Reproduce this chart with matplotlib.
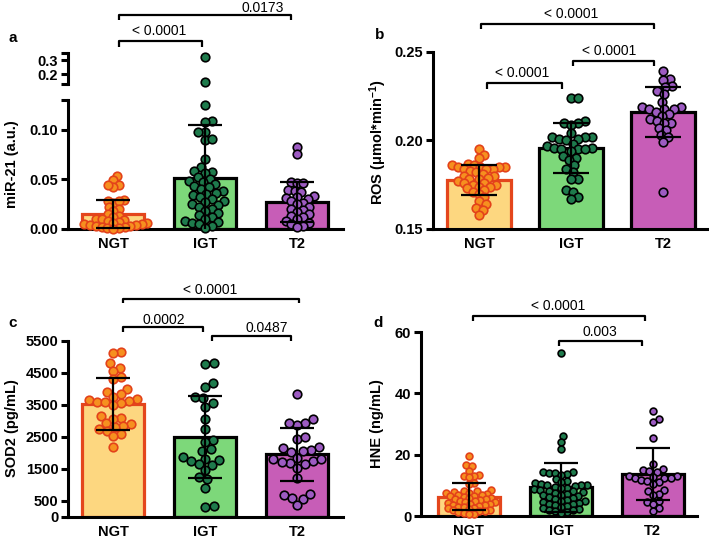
import numpy as np
import matplotlib
matplotlib.use("Agg")
import matplotlib.pyplot as plt
from matplotlib.transforms import blended_transform_factory

plt.rcParams["font.family"] = ["Liberation Sans", "DejaVu Sans"]
plt.rcParams["mathtext.fontset"] = "custom"
plt.rcParams["mathtext.rm"] = "Liberation Sans:bold"
plt.rcParams["mathtext.it"] = "Liberation Sans:bold"
plt.rcParams["mathtext.bf"] = "Liberation Sans:bold"

groups = ["NGT", "IGT", "T2"]

# panel a: miR-21 (a.u.)
mir_ngt = [0.053, 0.049, 0.044, 0.042, 0.044, 0.029, 0.026, 0.028, 0.022, 0.028, 0.020,
           0.018, 0.015, 0.013, 0.012, 0.010, 0.010, 0.009, 0.008, 0.007, 0.006, 0.006,
           0.005, 0.005, 0.004, 0.004, 0.003, 0.003, 0.002, 0.002, 0.001, 0.001, 0.0]
mir_igt = [0.324, 0.145, 0.125, 0.109, 0.108, 0.098, 0.098, 0.090, 0.091, 0.071, 0.062,
           0.058, 0.057, 0.056, 0.052, 0.050, 0.048, 0.047, 0.045, 0.043, 0.042, 0.040,
           0.038, 0.036, 0.035, 0.034, 0.032, 0.030, 0.028, 0.027, 0.025, 0.024, 0.022,
           0.020, 0.018, 0.016, 0.014, 0.012, 0.010, 0.008, 0.007, 0.006, 0.005, 0.003, 0.001]
mir_t2 = [0.083, 0.076, 0.047, 0.046, 0.046, 0.039, 0.038, 0.037, 0.033, 0.032, 0.031,
          0.030, 0.028, 0.026, 0.025, 0.022, 0.020, 0.019, 0.017, 0.015, 0.013, 0.012,
          0.010, 0.008, 0.006, 0.005, 0.003, 0.002]
mir_mean = [0.015, 0.051, 0.027]
mir_sd = [0.014, 0.054, 0.020]

# panel b: ROS
ros_ngt = [0.195, 0.192, 0.190, 0.187, 0.186, 0.186, 0.185, 0.185, 0.185, 0.185, 0.184,
           0.184, 0.184, 0.183, 0.182, 0.181, 0.180, 0.180, 0.179, 0.178, 0.178, 0.177,
           0.176, 0.176, 0.175, 0.175, 0.174, 0.174, 0.173, 0.172, 0.171, 0.170, 0.168,
           0.166, 0.164, 0.162, 0.161, 0.158]
ros_igt = [0.224, 0.224, 0.211, 0.210, 0.210, 0.209, 0.204, 0.202, 0.202, 0.202, 0.201,
           0.201, 0.200, 0.198, 0.197, 0.196, 0.196, 0.195, 0.195, 0.195, 0.194, 0.191,
           0.190, 0.189, 0.186, 0.184, 0.182, 0.178, 0.178, 0.172, 0.171, 0.168, 0.167]
ros_t2 = [0.239, 0.235, 0.234, 0.231, 0.230, 0.228, 0.226, 0.222, 0.219, 0.219, 0.218,
          0.218, 0.218, 0.216, 0.215, 0.214, 0.212, 0.211, 0.210, 0.210, 0.207, 0.206,
          0.203, 0.202, 0.199, 0.171]
ros_mean = [0.1777, 0.1958, 0.216]
ros_sd = [0.0085, 0.014, 0.0143]

# panel c: SOD2 (pg/mL)
sod_ngt = [5150, 5110, 4800, 4670, 4560, 4390, 4300, 4000, 3920, 3830, 3760, 3700, 3650,
           3620, 3600, 3580, 3550, 3500, 3150, 3100, 3050, 2950, 2900, 2850, 2800, 2750,
           2700, 2600, 2520, 2200]
sod_igt = [4780, 4820, 4180, 4070, 3760, 3710, 3550, 3450, 3050, 2740, 2400, 2350, 2110,
           2070, 1880, 1820, 1780, 1750, 1650, 1620, 1470, 1260, 1180, 920, 340, 300]
sod_t2 = [3840, 3060, 2930, 2880, 2930, 2440, 2510, 2180, 2100, 2060, 2150, 2030, 1850,
          1800, 1760, 1700, 1650, 1720, 1800, 1540, 1230, 690, 590, 560, 720, 380]
sod_mean = [3531, 2510, 1959]
sod_sd = [825, 1285, 830]

# panel d: HNE (ng/mL)
hne_ngt = [19.5, 16.5, 16.3, 14.8, 13.5, 13.2, 13.0, 12.8, 10.8, 10.5, 8.5, 8.2, 8.0, 7.8,
           7.6, 7.5, 7.3, 7.0, 6.8, 6.6, 6.5, 6.3, 6.0, 5.8, 5.6, 5.5, 5.3, 5.0, 4.8, 4.6,
           4.5, 4.3, 4.0, 3.8, 3.6, 3.5, 3.3, 3.0, 2.8, 2.6, 2.5, 2.3, 2.0, 1.8, 1.6, 1.5,
           1.2, 1.0, 0.8, 0.5]
hne_igt = [53, 26, 24.2, 22, 14.5, 14.3, 14.0, 14.0, 13.8, 13.5, 12.0, 11.5, 11.0, 10.8,
           10.5, 10.2, 10.0, 10.0, 9.8, 9.5, 9.2, 9.0, 8.8, 8.5, 8.2, 8.0, 7.8, 7.5, 7.2,
           7.0, 6.8, 6.5, 6.2, 6.0, 5.5, 5.2, 5.0, 4.8, 4.5, 4.2, 4.0, 3.8, 3.5, 3.2, 3.0,
           2.5, 2.2, 2.0, 1.8, 1.5, 1.2, 1.0]
hne_t2 = [34.3, 31.5, 30.7, 25.5, 16.9, 15.3, 15.0, 14.6, 14.3, 13.2, 13.0, 12.8, 12.5,
          12.5, 12.3, 11.8, 11.5, 11.0, 10.5, 8.5, 8.0, 7.2, 6.8, 5.0, 4.5, 4.0, 2.5, 1.5]
hne_mean = [6.3, 9.3, 13.7]
hne_sd = [4.4, 7.9, 8.6]

bar_face = ["#FDD780", "#7DD87A", "#C75DB7"]
bar_edge = ["#E4461C", "black", "black"]
pt_face = ["#F6901F", "#1E7B4C", "#9D5BC2"]
pt_edge = ["#E3421A", "black", "black"]

W, H = 709, 543
fig = plt.figure(figsize=(W / 100, H / 100), dpi=100)


def add_ax(x0, x1, y_top, y_bot):
    return fig.add_axes([x0 / W, 1 - y_bot / H, (x1 - x0) / W, (y_bot - y_top) / H],
                        facecolor="none")


def swarm_x(ax, x0, vals, d):
    vals = np.asarray(vals, float)
    xy = ax.transData.transform(np.column_stack([np.full(len(vals), x0), vals]))
    placed = []
    xs = np.zeros(len(vals))
    for i in np.argsort(vals):
        py = xy[i, 1]
        cands = [0.0]
        for ox, oy in placed:
            dy = py - oy
            if abs(dy) < d:
                dx = np.sqrt(d * d - dy * dy)
                cands += [ox + dx, ox - dx]
        for c in sorted(cands, key=abs):
            if all((c - ox) ** 2 + (py - oy) ** 2 >= d * d - 1e-6 for ox, oy in placed):
                break
        placed.append((c, py))
        xs[i] = xy[i, 0] + c
    return ax.transData.inverted().transform(np.column_stack([xs, xy[:, 1]]))[:, 0]


def style(ax, yticks, ylabels, bottom=True):
    for s in ["top", "right"]:
        ax.spines[s].set_visible(False)
    ax.spines["left"].set_linewidth(2.2)
    ax.spines["bottom"].set_linewidth(2.2)
    ax.set_yticks(yticks)
    ax.set_yticklabels(ylabels, fontweight="bold", fontsize=10.5)
    ax.tick_params(axis="y", width=2.2, length=5, pad=2)
    if bottom:
        ax.set_xticks([0, 1, 2])
        ax.set_xticklabels(groups, fontweight="bold", fontsize=10.5)
        ax.tick_params(axis="x", length=0, pad=6)
    else:
        ax.spines["bottom"].set_visible(False)
        ax.set_xticks([])


def bars(ax, means, sds, width, capsize):
    for i in range(3):
        ax.bar(i, means[i], width=width, color=bar_face[i], edgecolor=bar_edge[i],
               linewidth=2.3, zorder=2)
    ax.errorbar(range(3), means, yerr=sds, fmt="none", ecolor="black", elinewidth=1.6,
                capsize=capsize, capthick=1.6, zorder=5)


def points(ax, data, size, spacing, lo=None, hi=None):
    diam_px = np.sqrt(size) * 100 / 72
    for i, vals in enumerate(data):
        v = np.asarray(vals, float)
        if lo is not None:
            v = v[(v >= lo) & (v <= hi)]
        if len(v) == 0:
            continue
        xs = swarm_x(ax, i, v, diam_px * spacing[i])
        ax.scatter(xs, v, s=size, facecolor=pt_face[i], edgecolor=pt_edge[i],
                   linewidth=1.2, zorder=4, clip_on=False)


def bracket(ax, x1, x2, y, drop, text, tx, ty):
    tr = blended_transform_factory(ax.transData, ax.transAxes)
    ax.plot([x1, x1, x2, x2], [y - drop, y, y, y - drop], color="black", lw=1.6,
            transform=tr, clip_on=False, solid_capstyle="butt")
    ax.text(tx, ty, text, transform=tr, ha="center", va="center", fontsize=10)


def ylabel(ax, text, x, y):
    ax.set_ylabel(text, fontweight="bold", fontsize=10.5)
    ax.yaxis.set_label_coords(x, y)


# ---- panel a (broken y axis)
axa = add_ax(68, 343, 100, 229)
axa_up = add_ax(68, 343, 53, 84)
for ax in (axa, axa_up):
    ax.set_xlim(-0.49, 2.5)
axa.set_ylim(0, 0.13)
axa_up.set_ylim(0.1286, 0.35)
style(axa, [0, 0.05, 0.10], ["0.00", "0.05", "0.10"])
style(axa_up, [0.2, 0.3], ["0.2", "0.3"], bottom=False)
axa.set_yticks([0.13], minor=True)
axa_up.set_yticks([0.1286, 0.35], minor=True)
for ax in (axa, axa_up):
    ax.tick_params(axis="y", which="minor", width=2.2, length=5)
bars(axa, mir_mean, mir_sd, 0.68, 12)
points(axa, [mir_ngt, mir_igt, mir_t2], 38, [0.68, 0.85, 0.75], 0, 0.13)
points(axa_up, [mir_ngt, mir_igt, mir_t2], 38, [0.8, 0.8, 0.8], 0.13, 0.35)
ylabel(axa, "miR-21 (a.u.)", -0.178, 0.5)
bracket(axa, 0.06, 0.97, 1.457, 0.047, "< 0.0001", 0.5, 1.535)
bracket(axa, 0.06, 1.93, 1.659, 0.04, "0.0173", 1.63, 1.712)

# ---- panel b
axb = add_ax(433, 708, 52, 229)
axb.set_xlim(-0.5, 2.49)
axb.set_ylim(0.15, 0.25)
style(axb, [0.15, 0.20, 0.25], ["0.15", "0.20", "0.25"])
bars(axb, ros_mean, ros_sd, 0.7, 13)
points(axb, [ros_ngt, ros_igt, ros_t2], 38, [0.75, 0.85, 0.85])
ylabel(axb, "ROS (μmol*min$^{-1}$)", -0.16, 0.49)
bracket(axb, 0.02, 1.9, 1.158, 0.03, "< 0.0001", 1.0, 1.215)
bracket(axb, 0.09, 0.9, 0.825, 0.034, "< 0.0001", 0.47, 0.881)
bracket(axb, 1.02, 1.9, 0.949, 0.03, "< 0.0001", 1.42, 1.006)

# ---- panel c
axc = add_ax(68, 343, 341, 517)
axc.set_xlim(-0.49, 2.5)
axc.set_ylim(0, 5500)
style(axc, [0, 500, 1500, 2500, 3500, 4500, 5500],
      ["0", "500", "1500", "2500", "3500", "4500", "5500"])
bars(axc, sod_mean, sod_sd, 0.68, 12)
points(axc, [sod_ngt, sod_igt, sod_t2], 38, [0.95, 1.0, 1.0])
ylabel(axc, "SOD2 (pg/mL)", -0.178, 0.506)
bracket(axc, 0.11, 2.02, 1.239, 0.023, "< 0.0001", 1.05, 1.29)
bracket(axc, 0.11, 0.98, 1.08, 0.03, "0.0002", 0.55, 1.12)
bracket(axc, 1.08, 1.93, 1.028, 0.028, "0.0487", 1.67, 1.074)

# ---- panel d
axd = add_ax(421, 697, 332, 516)
axd.set_xlim(-0.52, 2.48)
axd.set_ylim(0, 60)
style(axd, [0, 20, 40, 60], ["0", "20", "40", "60"])
bars(axd, hne_mean, hne_sd, 0.68, 12)
points(axd, [hne_ngt, hne_igt, hne_t2], 24, [0.8, 0.9, 0.95])
ylabel(axd, "HNE (ng/mL)", -0.134, 0.505)
bracket(axd, 0.05, 1.91, 1.087, 0.027, "< 0.0001", 0.97, 1.141)
bracket(axd, 0.98, 1.88, 0.951, 0.027, "0.003", 1.42, 1.0)

for lbl, x, y in [("a", 13, 38), ("b", 380, 35), ("c", 13, 323), ("d", 378, 323)]:
    fig.text(x / W, 1 - y / H, lbl, fontweight="bold", fontsize=11, ha="center", va="center")

fig.savefig("out.png", dpi=100)
